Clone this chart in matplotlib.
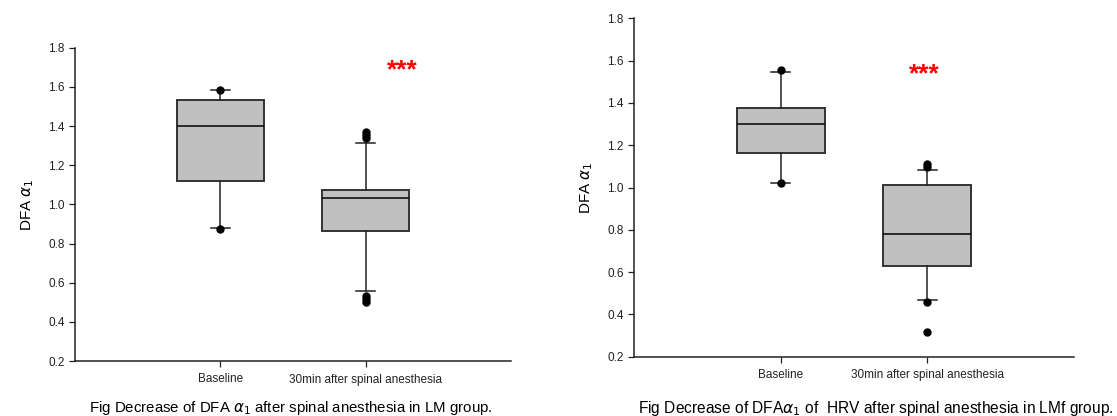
import matplotlib
matplotlib.use("Agg")
import matplotlib.pyplot as plt

plt.rcParams['font.family'] = ['Liberation Sans', 'DejaVu Sans']

categories = ["Baseline", "30min after spinal anesthesia"]
yticks = [0.2, 0.4, 0.6, 0.8, 1.0, 1.2, 1.4, 1.6, 1.8]

# Left panel (LM group): whislo, q1, med, q3, whishi, fliers
lm_whislo = [0.878, 0.557]
lm_q1 = [1.119, 0.865]
lm_med = [1.399, 1.031]
lm_q3 = [1.534, 1.075]
lm_whishi = [1.582, 1.313]
lm_fliers = [[1.585, 0.874], [1.37, 1.355, 1.34, 0.53, 0.515, 0.50]]

# Right panel (LMf group)
lmf_whislo = [1.023, 0.467]
lmf_q1 = [1.163, 0.629]
lmf_med = [1.299, 0.782]
lmf_q3 = [1.376, 1.013]
lmf_whishi = [1.548, 1.083]
lmf_fliers = [[1.556, 1.02], [1.11, 1.095, 0.457, 0.317]]

captions = ["Fig Decrease of DFA $\\alpha_1$ after spinal anesthesia in LM group.",
            "Fig Decrease of DFA$\\alpha_1$ of  HRV after spinal anesthesia in LMf group."]
stars = "***"

fig = plt.figure(figsize=(11.17, 4.16), dpi=100)
W, H = 1117, 416
ax1 = fig.add_axes([75 / W, 1 - 361 / H, (511 - 75) / W, (361 - 47.7) / H])
ax2 = fig.add_axes([634 / W, 1 - 356.7 / H, (1074 - 634) / W, (356.7 - 18.3) / H])

def draw(ax, whislo, q1, med, q3, whishi, fliers, star_xy):
    stats = []
    for i in range(len(categories)):
        stats.append(dict(whislo=whislo[i], q1=q1[i], med=med[i], q3=q3[i],
                          whishi=whishi[i], fliers=fliers[i], label=categories[i]))
    ax.bxp(stats, positions=[1, 2], widths=0.6, patch_artist=True, showcaps=True,
           boxprops=dict(facecolor='#c0c0c0', edgecolor='#333333', linewidth=1.4),
           medianprops=dict(color='#111111', linewidth=1.2),
           whiskerprops=dict(color='#222222', linewidth=1.1),
           capprops=dict(color='#222222', linewidth=1.1),
           capwidths=0.13,
           flierprops=dict(marker='o', markerfacecolor='black', markeredgecolor='black',
                           markersize=5, linestyle='none'))
    ax.set_xlim(0, 3)
    ax.set_ylim(0.2, 1.8)
    ax.set_yticks(yticks)
    ax.set_yticklabels([f"{v:.1f}" for v in yticks])
    ax.set_xticks([1, 2])
    ax.set_xticklabels(categories)
    for s in ['top', 'right']:
        ax.spines[s].set_visible(False)
    for s in ['left', 'bottom']:
        ax.spines[s].set_color('#222222')
        ax.spines[s].set_linewidth(1.1)
    ax.tick_params(axis='both', direction='out', length=4, width=0.9, color='#222222',
                   labelsize=8.5, labelcolor='#222222')
    ax.tick_params(axis='x', pad=5)
    ax.set_ylabel("DFA $\\alpha_1$", fontsize=11, labelpad=9)
    ax.text(star_xy[0], star_xy[1], stars, color='red', fontsize=19, fontweight='bold',
            ha='center', va='center')
    ax.patch.set_alpha(0)

draw(ax1, lm_whislo, lm_q1, lm_med, lm_q3, lm_whishi, lm_fliers, (2.25, 1.685))
draw(ax2, lmf_whislo, lmf_q1, lmf_med, lmf_q3, lmf_whishi, lmf_fliers, (1.98, 1.535))

fig.text(291 / W, 1 - 408 / H, captions[0], ha='center', va='center', fontsize=10.8)
fig.text(876 / W, 1 - 408 / H, captions[1], ha='center', va='center', fontsize=11.2)

fig.savefig("out.png", dpi=100)
